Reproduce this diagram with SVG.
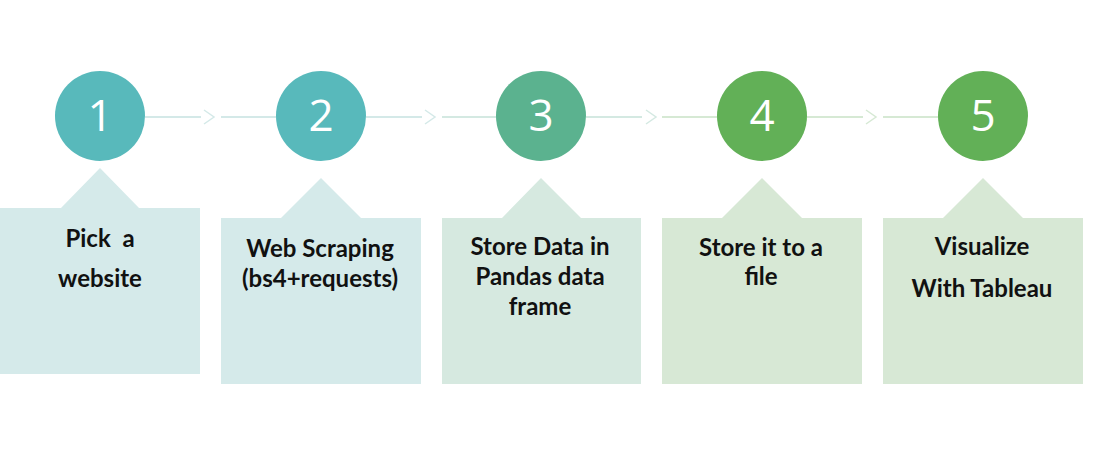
<svg xmlns="http://www.w3.org/2000/svg" width="1104" height="457" viewBox="0 0 1104 457">
<style>
.num{font-family:"Open Sans","DejaVu Sans",sans-serif;font-size:44px;fill:#ffffff;text-anchor:middle}
.lbl{font-family:Lato,"Liberation Sans",sans-serif;font-weight:bold;font-size:24px;fill:#111111;text-anchor:middle}
.ln{fill:none;stroke-width:2}
.ch{fill:none;stroke-width:1.5}
</style>
<rect width="1104" height="457" fill="#ffffff"/>
<g id="connectors">
<line class="ln" x1="145" y1="117" x2="201" y2="117" stroke="#d4e9e8"/>
<polyline class="ch" points="204,110 214,117 204,124" stroke="#d4e9e8"/>
<line class="ln" x1="221" y1="117" x2="276" y2="117" stroke="#d4e9e8"/>
<line class="ln" x1="366" y1="117" x2="422" y2="117" stroke="#d4e9e8"/>
<polyline class="ch" points="425,110 435,117 425,124" stroke="#d4e9e8"/>
<line class="ln" x1="442" y1="117" x2="497" y2="117" stroke="#d4e9e2"/>
<line class="ln" x1="586" y1="117" x2="642" y2="117" stroke="#d4e9e2"/>
<polyline class="ch" points="646,110 656,117 646,124" stroke="#d4e9e2"/>
<line class="ln" x1="662" y1="117" x2="717" y2="117" stroke="#d6e9d4"/>
<line class="ln" x1="807" y1="117" x2="863" y2="117" stroke="#d6e9d4"/>
<polyline class="ch" points="866,110 876,117 866,124" stroke="#d6e9d4"/>
<line class="ln" x1="883" y1="117" x2="938" y2="117" stroke="#d6e9d4"/>
</g>
<g id="step1">
<circle cx="100" cy="116" r="45" fill="#58b9bb"/>
<text class="num" x="100" y="131">1</text>
<path d="M0,208 H61 L100,168 L139,208 H200 V374 H0 Z" fill="#d5eaea"/>
<text class="lbl" x="100" y="247" xml:space="preserve">Pick  a</text>
<text class="lbl" x="100" y="287">website</text>
</g>
<g id="step2">
<circle cx="321" cy="116" r="45" fill="#58b9bb"/>
<text class="num" x="321" y="131">2</text>
<path d="M221,218 H281 L321,178 L361,218 H421 V384 H221 Z" fill="#d5eaea"/>
<text class="lbl" x="320" y="257">Web Scraping</text>
<text class="lbl" x="320" y="287">(bs4+requests)</text>
</g>
<g id="step3">
<circle cx="541" cy="116" r="45" fill="#5bb28f"/>
<text class="num" x="541" y="131">3</text>
<path d="M442,218 H502 L541,178 L581,218 H641 V384 H442 Z" fill="#d6e9e0"/>
<text class="lbl" x="540" y="255">Store Data in</text>
<text class="lbl" x="540" y="285">Pandas data</text>
<text class="lbl" x="540" y="315">frame</text>
</g>
<g id="step4">
<circle cx="762" cy="116" r="45" fill="#62b057"/>
<text class="num" x="762" y="131">4</text>
<path d="M662,218 H722 L762,178 L802,218 H862 V384 H662 Z" fill="#d7e8d5"/>
<text class="lbl" x="761" y="256">Store it to a</text>
<text class="lbl" x="761" y="285">file</text>
</g>
<g id="step5">
<circle cx="983" cy="116" r="45" fill="#62b057"/>
<text class="num" x="983" y="131">5</text>
<path d="M883,218 H943 L983,178 L1023,218 H1083 V384 H883 Z" fill="#d7e8d5"/>
<text class="lbl" x="982" y="255">Visualize</text>
<text class="lbl" x="982" y="297">With Tableau</text>
</g>
</svg>
